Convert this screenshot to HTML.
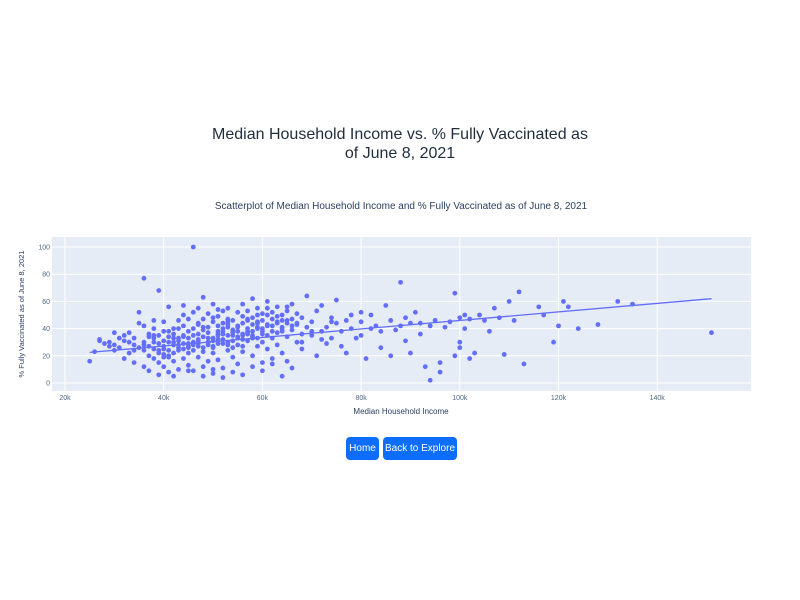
<!DOCTYPE html>
<html><head><meta charset="utf-8"><style>
body{margin:0;width:800px;height:600px;background:#fff;font-family:"Liberation Sans",sans-serif;position:relative;overflow:hidden}
.t{position:absolute;color:#2a3f5f;text-align:center;white-space:nowrap}
.btn{position:absolute;top:437px;height:23px;background:#0d6efd;color:#fff;border-radius:4px;font-size:10px;line-height:23px;text-align:center;cursor:pointer;white-space:nowrap;overflow:hidden}
</style></head><body>
<div class="t" style="left:0;width:800px;top:125px;font-size:16px;line-height:19px;color:#1f2d3d">Median Household Income vs. % Fully Vaccinated as<br>of June 8, 2021</div>
<svg id="chart" width="800" height="430" style="position:absolute;left:0;top:0"></svg>
<div class="btn" style="left:346px;width:33px">Home</div>
<div class="btn" style="left:383px;width:74px">Back to Explore</div>
<script>
const xTicks=[20,40,60,80,100,120,140];
const xTickLabels=["20k","40k","60k","80k","100k","120k","140k"];
const yTicks=[0,20,40,60,80,100];
const incomeK=[
25,26,27,27,28,29,29,30,30,31,
31,32,32,33,33,33,34,34,34,35,
35,35,36,36,36,36,37,37,37,37,
38,38,38,38,38,39,39,39,39,39,
40,40,40,40,40,40,41,41,41,41,
41,42,42,42,42,42,42,43,43,43,
43,43,44,44,44,44,44,44,45,45,
45,45,45,45,46,46,46,46,46,46,
47,47,47,47,47,47,48,48,48,48,
48,48,49,49,49,49,49,49,50,50,
50,50,50,50,51,51,51,51,51,51,
52,52,52,52,52,52,53,53,53,53,
53,53,54,54,54,54,54,54,55,55,
55,55,55,56,56,56,56,56,56,57,
57,57,57,57,58,58,58,58,58,58,
59,59,59,59,59,60,60,60,60,60,
60,61,61,61,61,61,62,62,62,62,
63,63,63,63,64,64,64,64,65,65,
65,65,66,66,66,67,67,67,68,68,
68,69,69,70,70,71,71,72,72,73,
73,74,74,75,75,76,77,77,78,79,
80,80,81,82,83,84,85,86,87,88,
89,89,90,91,92,93,94,95,96,98,
99,100,100,101,101,102,102,103,104,105,
106,107,108,109,110,111,112,113,116,117,
119,120,121,122,124,128,132,135,151,99,
36,37,38,39,40,41,42,43,44,45,
46,47,48,49,50,51,52,53,54,55,
56,57,58,59,60,61,62,63,64,65,
40,42,44,46,48,50,52,54,56,58,
41,43,45,47,49,51,53,55,57,59,
48,50,52,54,56,58,60,62,64,66,
30,32,34,36,38,39,41,43,45,47,
62,64,66,68,70,72,74,76,78,80,
82,84,86,88,90,92,94,96,97,100,
50,51,53,55,57,59,61,63,65,67];
const vaccPct=[
16,23,31,32,29,27,30,28,24,33,
26,18,35,30,22,37,28,33,15,26,
52,44,77,30,24,12,36,27,20,9,
33,25,40,18,46,68,29,22,35,6,
38,27,31,19,45,12,34,24,56,30,
8,28,40,16,36,22,5,31,26,46,
33,10,35,42,25,18,29,57,38,29,
13,47,33,22,100,24,40,30,52,9,
36,27,44,19,55,31,39,23,47,12,
63,34,28,41,16,51,30,37,45,22,
7,58,33,26,42,49,17,36,29,38,
44,53,11,38,32,40,24,47,35,28,
43,55,19,31,39,35,46,26,14,41,
33,52,38,27,44,36,23,49,58,40,
31,46,36,53,20,43,35,62,48,38,
27,41,33,55,45,15,38,46,30,51,
40,60,25,43,35,50,47,33,18,42,
37,56,28,45,38,50,22,41,53,34,
44,16,47,39,58,30,43,51,36,25,
48,41,64,35,45,20,53,38,57,29,
41,48,33,61,44,38,22,46,40,33,
52,45,18,50,42,26,57,46,39,74,
48,31,44,52,36,12,42,46,8,45,
20,48,30,40,50,47,18,22,50,46,
38,55,48,21,60,46,67,14,56,50,
30,42,60,56,40,43,60,58,37,66,
42,34,30,24,21,38,33,28,50,26,
35,29,41,33,27,32,36,30,38,34,
32,37,34,40,36,42,38,44,40,46,
25,30,34,28,26,31,29,37,35,33,
20,24,27,32,30,35,41,28,38,44,
5,10,4,8,6,12,9,14,5,11,
37,31,24,28,35,15,19,40,9,43,
52,46,42,30,38,32,45,27,50,35,
40,38,20,42,22,44,2,15,41,26,
48,54,45,42,47,50,55,49,56,44];
const trendX=[25,151];
const trendY=[22.5,62];
const NS="http://www.w3.org/2000/svg";
const svg=document.getElementById('chart');
const L=52,R=751,T=237,B=391;
const xs=v=>65+(v-20)*4.935;
const ys=v=>383-v*1.36;
function mk(tag,attrs){const e=document.createElementNS(NS,tag);for(const k in attrs)e.setAttribute(k,attrs[k]);svg.appendChild(e);return e;}
const bg=mk('rect',{x:L,y:T,width:R-L,height:B-T,fill:'#e5ecf6'});


xTicks.forEach((t,i)=>{
  const g=mk('line',{x1:xs(t),x2:xs(t),y1:T,y2:B,stroke:'#fff','stroke-width':1});
  
  
  const tx=mk('text',{x:xs(t),y:B+9,'font-size':7,fill:'#506784','text-anchor':'middle','font-family':'Liberation Sans, sans-serif'});
  tx.textContent=xTickLabels[i];
  
  
});
yTicks.forEach(t=>{
  const g=mk('line',{x1:L,x2:R,y1:ys(t),y2:ys(t),stroke:'#fff','stroke-width':1});
  
  
  const tx=mk('text',{x:L-2,y:ys(t)+2.5,'font-size':7,fill:'#506784','text-anchor':'end','font-family':'Liberation Sans, sans-serif'});
  tx.textContent=String(t);
  
  
});
incomeK.forEach((x,i)=>{
  const c=mk('circle',{cx:xs(x),cy:ys(vaccPct[i]),r:2.4,fill:'#636efa'});
  
  
});
const tl=mk('line',{x1:xs(trendX[0]),y1:ys(trendY[0]),x2:xs(trendX[1]),y2:ys(trendY[1]),stroke:'#636efa','stroke-width':1.3});


const st=mk('text',{x:401,y:209,'font-size':10,fill:'#2a3f5f','text-anchor':'middle','font-family':'Liberation Sans, sans-serif'});
st.textContent='Scatterplot of Median Household Income and % Fully Vaccinated as of June 8, 2021';


const xt=mk('text',{x:401,y:414,'font-size':8,fill:'#2a3f5f','text-anchor':'middle','font-family':'Liberation Sans, sans-serif'});
xt.textContent='Median Household Income';


const yt=mk('text',{x:0,y:0,'font-size':7.5,fill:'#2a3f5f','text-anchor':'middle','font-family':'Liberation Sans, sans-serif',transform:'translate(24,314) rotate(-90)'});
yt.textContent='% Fully Vaccinated as of June 8, 2021';


</script>
</body></html>
